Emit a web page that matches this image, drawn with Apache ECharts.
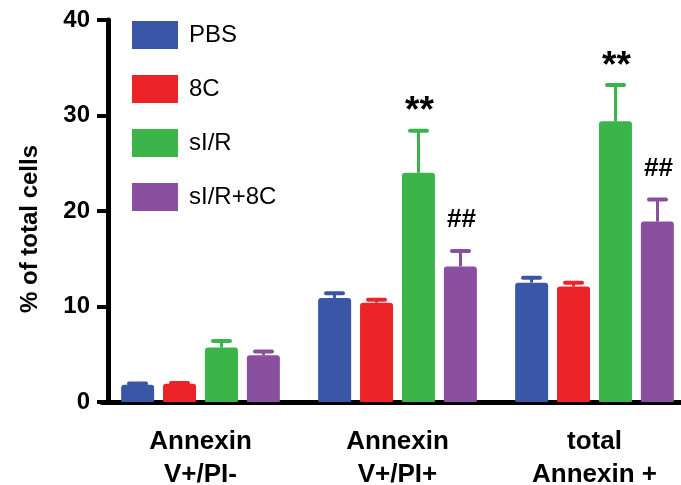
<!DOCTYPE html>
<html>
<head>
<meta charset="utf-8">
<script src="https://cdn.jsdelivr.net/npm/echarts@6/dist/echarts.min.js"></script>
<style>
  html, body { margin: 0; padding: 0; background: #fff; }
  #chart { width: 681px; height: 485px; }
</style>
</head>
<body>
<div id="chart"></div>
<script>
const categories = ['Annexin\nV+/PI-', 'Annexin\nV+/PI+', 'total\nAnnexin +'];
const groups = ['PBS', '8C', 'sI/R', 'sI/R+8C'];
const colors = ['#3a56a6', '#ec2427', '#3bb54a', '#8a4f9f'];

// mean and upper error (SEM) per group, per category
const means = [
  [1.8, 10.9, 12.5],
  [1.9, 10.4, 12.1],
  [5.7, 24.0, 29.4],
  [4.9, 14.2, 18.9]
];
const errors = [
  [0.15, 0.5, 0.5],
  [0.1, 0.3, 0.4],
  [0.7, 4.4, 3.8],
  [0.4, 1.6, 2.3]
];
const marks = [
  ['', '', ''],
  ['', '', ''],
  ['', '**', '**'],
  ['', '##', '##']
];

const yTicks = [0, 10, 20, 30, 40];

const font = '"Liberation Sans", Arial, sans-serif';
const barWidth = 33;
const barPitch = 42;

let chart = echarts.init(document.getElementById('chart'));

const barSeries = groups.map((name, i) => ({
  name: name,
  type: 'bar',
  data: means[i],
  barWidth: barWidth,
  barGap: '27%',
  itemStyle: { color: colors[i], borderRadius: [3, 3, 1, 1] },
  z: 2
}));

const errSeries = groups.map((name, i) => ({
  type: 'custom',
  name: name,
  data: means[i].map((m, j) => [j, m, m + errors[i][j], marks[i][j]]),
  z: 3,
  renderItem: function (params, api) {
    const base = api.coord([api.value(0), api.value(1)]);
    const top = api.coord([api.value(0), api.value(2)]);
    const x = base[0] + (i - 1.5) * barPitch;
    const children = [
      {
        type: 'line',
        shape: { x1: x, y1: base[1], x2: x, y2: top[1] },
        style: { stroke: colors[i], lineWidth: 3 }
      },
      {
        type: 'line',
        shape: { x1: x - 8.5, y1: top[1], x2: x + 8.5, y2: top[1] },
        style: { stroke: colors[i], lineWidth: 4, lineCap: 'round' }
      }
    ];
    const mark = marks[i][params.dataIndex];
    if (mark) {
      const star = mark === '**';
      children.push({
        type: 'text',
        style: {
          text: mark,
          x: x + 1,
          y: top[1] - (star ? 0 : 18),
          align: 'center',
          verticalAlign: 'bottom',
          font: 'bold ' + (star ? 37 : 26) + 'px ' + font,
          fill: '#000'
        }
      });
    }
    return { type: 'group', children: children };
  }
}));

chart.setOption({
  animation: false,
  backgroundColor: '#fff',
  grid: { left: 102, width: 591, top: 20, bottom: 83, outerBoundsMode: 'none' },
  legend: {
    data: groups,
    orient: 'vertical',
    left: 132,
    top: 21,
    padding: 0,
    itemWidth: 46,
    itemHeight: 28,
    itemGap: 26,
    icon: 'rect',
    textStyle: { fontSize: 24, fontFamily: font, color: '#000', padding: [0, 0, 0, 6] }
  },
  xAxis: {
    type: 'category',
    data: categories,
    axisLine: { lineStyle: { color: '#000', width: 5 } },
    axisTick: { alignWithLabel: true, length: 13, lineStyle: { color: '#000', width: 4 } },
    axisLabel: {
      margin: 23,
      fontSize: 26,
      fontWeight: 'bold',
      fontFamily: font,
      color: '#000',
      lineHeight: 33
    }
  },
  yAxis: {
    type: 'value',
    min: yTicks[0],
    max: yTicks[yTicks.length - 1],
    interval: 10,
    offset: -6,
    name: '% of total cells',
    nameLocation: 'middle',
    nameRotate: 90,
    nameGap: 66,
    nameTextStyle: { fontSize: 24, fontWeight: 'bold', fontFamily: font, color: '#000', padding: [0, 36, 0, 0] },
    axisLine: { show: true, lineStyle: { color: '#000', width: 5 } },
    axisTick: { show: true, length: 11, lineStyle: { color: '#000', width: 4 } },
    axisLabel: { margin: 18, fontSize: 24, fontWeight: 'bold', fontFamily: font, color: '#000' },
    splitLine: { show: false }
  },
  series: barSeries.concat(errSeries)
});
</script>
</body>
</html>
